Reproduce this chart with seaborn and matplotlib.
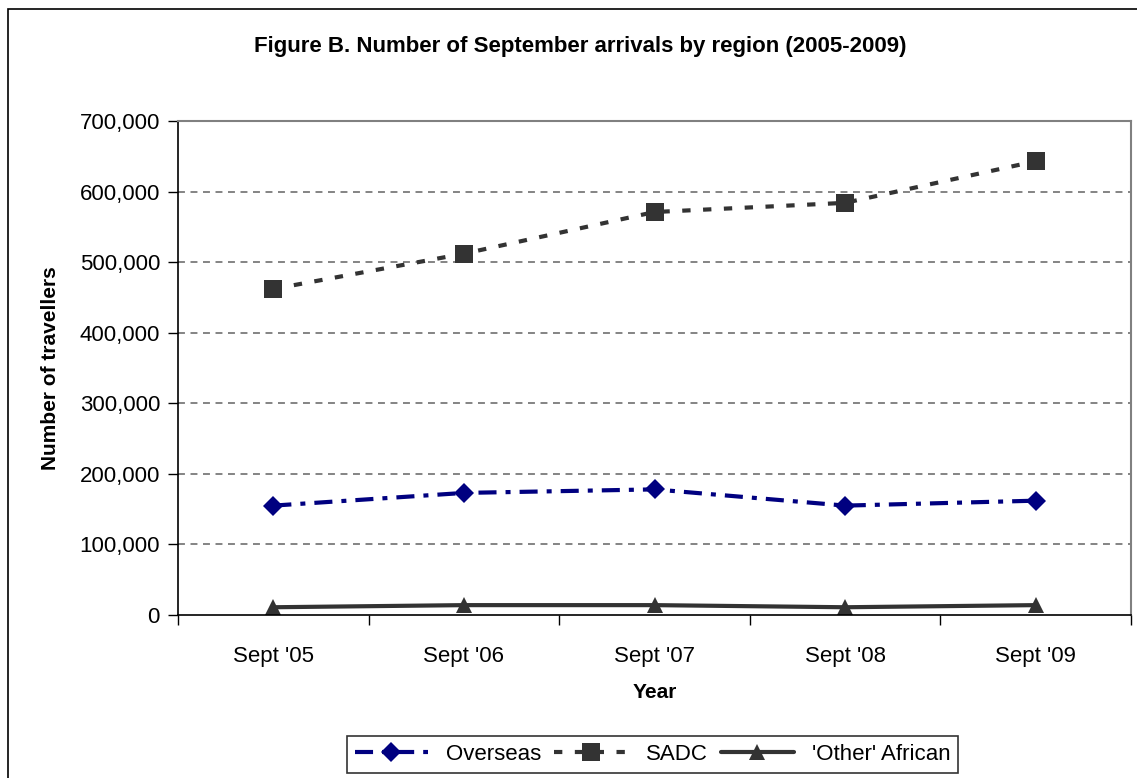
import pandas as pd
import numpy as np
import seaborn as sns
import matplotlib.pyplot as plt
from matplotlib.patches import Rectangle
from matplotlib.ticker import FuncFormatter, FixedLocator

months = ["Sept '05", "Sept '06", "Sept '07", "Sept '08", "Sept '09"]
overseas = [155000, 173000, 178000, 155000, 162000]
sadc = [462000, 512000, 571000, 584000, 643000]
other_african = [11000, 14000, 14000, 11000, 14000]

sns.set_style("white")
plt.rcParams['font.family'] = ['Liberation Sans', 'DejaVu Sans']
plt.rcParams['lines.scale_dashes'] = False
for k in ['text.color', 'axes.labelcolor', 'xtick.color', 'ytick.color']:
    plt.rcParams[k] = 'black'

fig = plt.figure(figsize=(11.37, 7.78), dpi=100)
ax = fig.add_axes([0.1566, 0.2095, 0.8381, 0.635])

df = pd.DataFrame({"month": months, "Overseas": overseas, "SADC": sadc,
                   "'Other' African": other_african})

sns.lineplot(data=df, x="month", y="Overseas", ax=ax, color="#000080",
             marker="D", markersize=10, markeredgewidth=0, lw=3,
             linestyle=(0, (13, 6.5, 3.6, 6.5)), label="Overseas")
sns.lineplot(data=df, x="month", y="SADC", ax=ax, color="#333333",
             marker="s", markersize=13, markeredgewidth=0, lw=3,
             linestyle=(0, (6, 9)), label="SADC")
sns.lineplot(data=df, x="month", y="'Other' African", ax=ax, color="#333333",
             marker="^", markersize=11, markeredgewidth=0, lw=3,
             linestyle="-", label="'Other' African")

ax.set_xlim(-0.5, 4.5)
ax.set_ylim(0, 700000)
ax.set_yticks(np.arange(0, 700001, 100000))
ax.yaxis.set_major_formatter(FuncFormatter(lambda v, p: f"{int(v):,}"))
for y in range(100000, 700000, 100000):
    ax.axhline(y, color="#707070", lw=1.2, linestyle=(0, (5, 4)), zorder=0)

ax.xaxis.set_minor_locator(FixedLocator(np.arange(-0.5, 4.6, 1)))
ax.tick_params(axis="x", which="major", length=0, labelsize=16, pad=22)
ax.tick_params(axis="x", which="minor", length=7, width=1, color="black",
               direction="out", bottom=True)
ax.tick_params(axis="y", length=7, width=1, color="black", direction="out",
               left=True, labelsize=16, pad=6)

for s in ["left", "bottom"]:
    ax.spines[s].set_color("black")
    ax.spines[s].set_linewidth(1.2)
for s in ["top", "right"]:
    ax.spines[s].set_color("#808080")
    ax.spines[s].set_linewidth(1.5)

ax.set_xlabel("Year", fontsize=15, fontweight="bold", labelpad=12)
ax.set_ylabel("Number of travellers", fontsize=15, fontweight="bold", labelpad=14)
fig.text(0.51, 0.94, "Figure B. Number of September arrivals by region (2005-2009)",
         ha="center", va="center", fontsize=16, fontweight="bold")

ax.get_legend().remove()
handles, labels = ax.get_legend_handles_labels()
leg = fig.legend(handles, labels, loc="upper center",
                 bbox_to_anchor=(0.574, 1 - 736 / 778), borderaxespad=0,
                 ncol=3, frameon=True, fontsize=16, handlelength=3.3,
                 handletextpad=0.8, columnspacing=0.6, borderpad=0.35,
                 fancybox=False)
leg.get_frame().set_edgecolor("black")
leg.get_frame().set_linewidth(1.2)

fig.patches.append(Rectangle((8 / 1137, -0.05), 1.1, 1 - 9 / 778 + 0.05,
                             transform=fig.transFigure, fill=False,
                             edgecolor="black", lw=1.2))

fig.savefig("out.png", dpi=100)
